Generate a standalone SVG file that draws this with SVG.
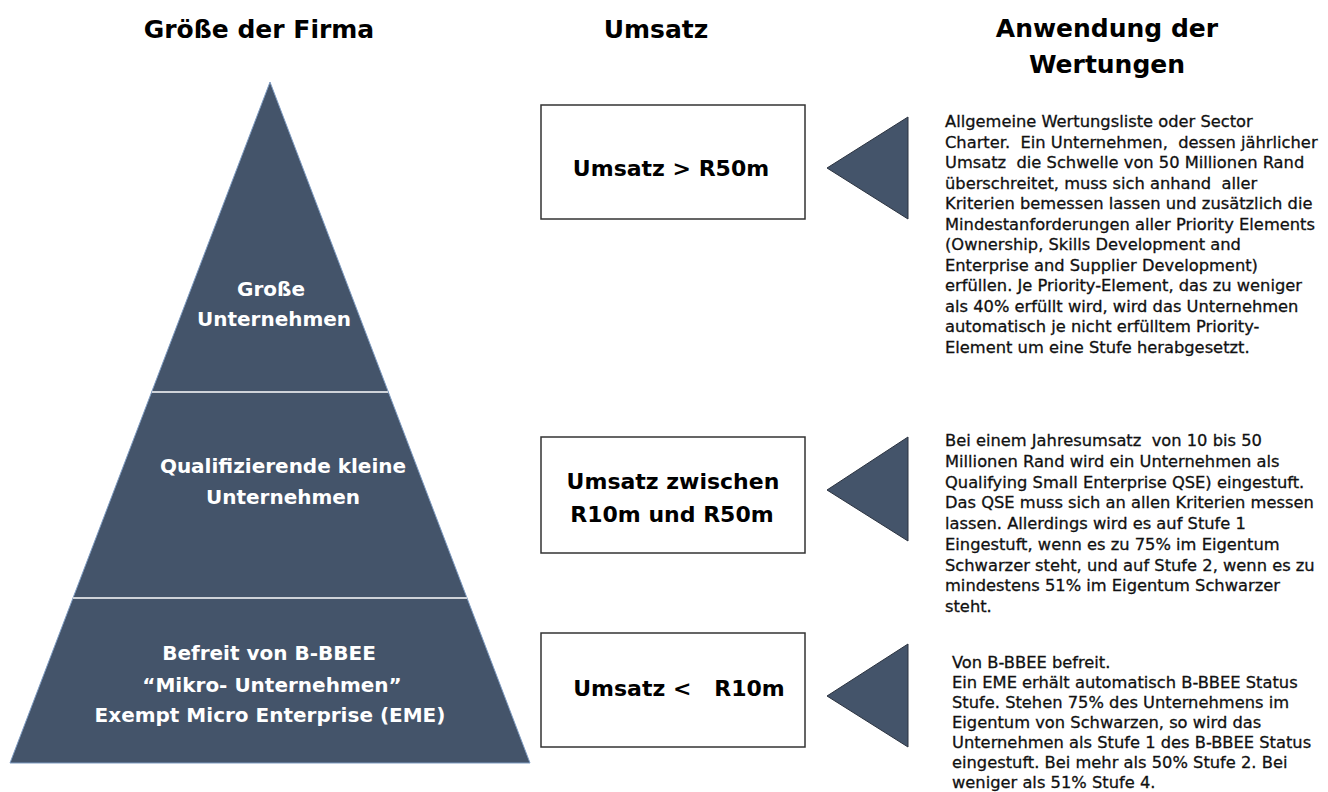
<svg xmlns="http://www.w3.org/2000/svg" width="1328" height="792" viewBox="0 0 1328 792">
<style>
.hdr{font-family:"DejaVu Sans",sans-serif;font-weight:bold;font-size:25px;fill:#000;text-anchor:middle}
.pyr{font-family:"DejaVu Sans",sans-serif;font-weight:bold;font-size:20px;fill:#fff;text-anchor:middle}
.box{fill:#fff;stroke:#333;stroke-width:1.5}
.btx{font-family:"DejaVu Sans",sans-serif;font-weight:bold;font-size:22px;fill:#000;text-anchor:middle}
.tri{fill:#44546A;stroke:#2b3340;stroke-width:1}
.desc{font-family:"DejaVu Sans",sans-serif;font-size:16.3px;fill:#111;stroke:#111;stroke-width:0.3}
.div{stroke:#cfd3d9;stroke-width:2}
</style>
<rect width="1328" height="792" fill="#fff"/>
<g id="headers">
<text class="hdr" x="259" y="38">Größe der Firma</text>
<text class="hdr" x="656" y="38">Umsatz</text>
<text class="hdr" x="1107" y="37">Anwendung der</text>
<text class="hdr" x="1107" y="73">Wertungen</text>
</g>
<g id="pyramid">
<polygon points="270,82 530,763 10,763" fill="#44546A" stroke="#7f9cc2" stroke-width="1"/>
<line class="div" x1="152" y1="392" x2="388" y2="392"/>
<line class="div" x1="73" y1="598" x2="467" y2="598"/>
</g>
<g id="level-gross">
<text class="pyr" x="271" y="296">Große</text>
<text class="pyr" x="274" y="326">Unternehmen</text>
</g>
<g id="level-qse">
<text class="pyr" x="283" y="473">Qualifizierende kleine</text>
<text class="pyr" x="283" y="504">Unternehmen</text>
</g>
<g id="level-eme">
<text class="pyr" x="269" y="660">Befreit von B-BBEE</text>
<text class="pyr" x="272" y="692">“Mikro- Unternehmen”</text>
<text class="pyr" x="270" y="722">Exempt Micro Enterprise (EME)</text>
</g>
<g id="box-r50">
<rect class="box" x="541" y="105" width="264" height="114"/>
<text class="btx" x="671" y="176">Umsatz &gt; R50m</text>
</g>
<g id="box-r10-r50">
<rect class="box" x="541" y="437" width="264" height="116"/>
<text class="btx" x="673" y="489">Umsatz zwischen</text>
<text class="btx" x="672" y="522">R10m und R50m</text>
</g>
<g id="box-r10">
<rect class="box" x="541" y="633" width="264" height="114"/>
<text class="btx" x="679" y="696" xml:space="preserve">Umsatz &lt;   R10m</text>
</g>
<g id="connectors">
<polygon class="tri" points="827,168 908,117 908,219"/>
<polygon class="tri" points="827,490 908,437 908,541"/>
<polygon class="tri" points="827,696 908,644 908,747"/>
</g>
<g id="desc-large">
<text class="desc" x="945" y="127" xml:space="preserve"><tspan x="945" y="127">Allgemeine Wertungsliste oder Sector</tspan><tspan x="945" y="147.5">Charter.  Ein Unternehmen,  dessen jährlicher</tspan><tspan x="945" y="168">Umsatz  die Schwelle von 50 Millionen Rand</tspan><tspan x="945" y="188.5">überschreitet, muss sich anhand  aller</tspan><tspan x="945" y="209">Kriterien bemessen lassen und zusätzlich die</tspan><tspan x="945" y="229.5">Mindestanforderungen aller Priority Elements</tspan><tspan x="945" y="250">(Ownership, Skills Development and</tspan><tspan x="945" y="270.5">Enterprise and Supplier Development)</tspan><tspan x="945" y="291">erfüllen. Je Priority-Element, das zu weniger</tspan><tspan x="945" y="311.5">als 40% erfüllt wird, wird das Unternehmen</tspan><tspan x="945" y="332">automatisch je nicht erfülltem Priority-</tspan><tspan x="945" y="352.5">Element um eine Stufe herabgesetzt.</tspan></text>
</g>
<g id="desc-qse">
<text class="desc" x="945" y="446" xml:space="preserve"><tspan x="945" y="446">Bei einem Jahresumsatz  von 10 bis 50</tspan><tspan x="945" y="466.75">Millionen Rand wird ein Unternehmen als</tspan><tspan x="945" y="487.5">Qualifying Small Enterprise QSE) eingestuft.</tspan><tspan x="945" y="508.25">Das QSE muss sich an allen Kriterien messen</tspan><tspan x="945" y="529">lassen. Allerdings wird es auf Stufe 1</tspan><tspan x="945" y="549.75">Eingestuft, wenn es zu 75% im Eigentum</tspan><tspan x="945" y="570.5">Schwarzer steht, und auf Stufe 2, wenn es zu</tspan><tspan x="945" y="591.25">mindestens 51% im Eigentum Schwarzer</tspan><tspan x="945" y="612">steht.</tspan></text>
</g>
<g id="desc-eme">
<text class="desc" x="952" y="668" xml:space="preserve"><tspan x="952" y="668">Von B-BBEE befreit.</tspan><tspan x="952" y="688">Ein EME erhält automatisch B-BBEE Status</tspan><tspan x="952" y="708">Stufe. Stehen 75% des Unternehmens im</tspan><tspan x="952" y="728">Eigentum von Schwarzen, so wird das</tspan><tspan x="952" y="748">Unternehmen als Stufe 1 des B-BBEE Status</tspan><tspan x="952" y="768">eingestuft. Bei mehr als 50% Stufe 2. Bei</tspan><tspan x="952" y="788">weniger als 51% Stufe 4.</tspan></text>
</g>
</svg>
